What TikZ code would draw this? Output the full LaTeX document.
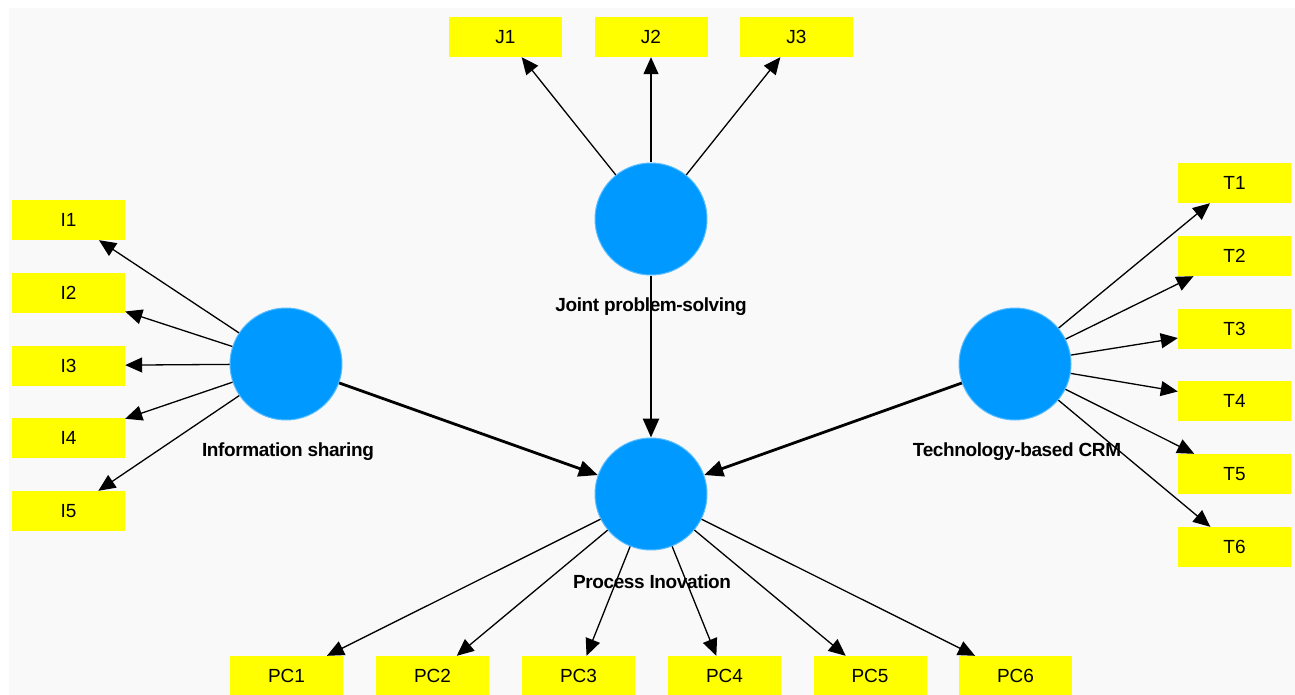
\documentclass[tikz,border=0pt]{standalone}
\usepackage{fontspec}
\setmainfont{Liberation Sans}
\newfontfamily\cnamefont[LetterSpace=-2]{Liberation Sans}
\usepackage{xcolor}
\usepackage{tikz}
\usetikzlibrary{arrows.meta,positioning}
\definecolor{cblue}{RGB}{0,153,255}
\definecolor{cyellow}{RGB}{255,255,0}
\definecolor{canvas}{RGB}{249,249,249}

\begin{document}
\begin{tikzpicture}[
  x=1pt,y=-1pt,
  construct/.style={circle,fill=cblue,draw=cblue!65!white,line width=1pt,minimum size=112pt,inner sep=0pt},
  indicator/.style={rectangle,fill=cyellow,text=black,minimum width=113pt,minimum height=40pt,inner sep=0pt,font=\fontsize{19}{22}\selectfont},
  cname/.style={inner sep=0pt,text=black,font=\cnamefont\bfseries\fontsize{19}{23}\selectfont},
  load/.style={-{Triangle[length=17pt,width=15pt]},draw=black,line width=1.3pt},
  effect/.style={-{Triangle[length=19pt,width=16pt]},draw=black,line width=2.8pt}
]
\useasboundingbox (0,0) rectangle (1295,695);
\fill[white] (0,0) rectangle (1295,695);
\fill[canvas] (9,8) rectangle (1295,695);
\node[construct] (is) at (286,364) {};
\node[construct] (jps) at (651,219) {};
\node[construct] (tcrm) at (1015,364) {};
\node[construct] (pi) at (651,494) {};
\node[cname] (isname) at (288,452) {Information sharing};
\node[cname] (jpsname) at (651,307) {Joint problem-solving};
\node[cname] (tcrmname) at (1017,452) {Technology-based CRM};
\node[cname] (piname) at (652,582) {Process Inovation};
\node[indicator] (i1) at (68.5,220) {I1};
\node[indicator] (i2) at (68.5,293) {I2};
\node[indicator] (i3) at (68.5,365.5) {I3};
\node[indicator] (i4) at (68.5,438) {I4};
\node[indicator] (i5) at (68.5,511) {I5};
\node[indicator] (j1) at (505.5,37) {J1};
\node[indicator] (j2) at (651,37) {J2};
\node[indicator] (j3) at (796.5,37) {J3};
\node[indicator] (t1) at (1234.5,183) {T1};
\node[indicator] (t2) at (1234.5,256) {T2};
\node[indicator] (t3) at (1234.5,329) {T3};
\node[indicator] (t4) at (1234.5,401) {T4};
\node[indicator] (t5) at (1234.5,474) {T5};
\node[indicator] (t6) at (1234.5,547) {T6};
\node[indicator] (pc1) at (286.5,676) {PC1};
\node[indicator] (pc2) at (432.5,676) {PC2};
\node[indicator] (pc3) at (578.5,676) {PC3};
\node[indicator] (pc4) at (724.5,676) {PC4};
\node[indicator] (pc5) at (870,676) {PC5};
\node[indicator] (pc6) at (1015.5,676) {PC6};
\draw[load] (is) -- (i1);
\draw[load] (is) -- (i2);
\draw[load] (is) -- (i3);
\draw[load] (is) -- (i4);
\draw[load] (is) -- (i5);
\draw[load] (jps) -- (j1);
\draw[load] (jps) -- (j2);
\draw[load] (jps) -- (j3);
\draw[load] (tcrm) -- (t1);
\draw[load] (tcrm) -- (t2);
\draw[load] (tcrm) -- (t3);
\draw[load] (tcrm) -- (t4);
\draw[load] (tcrm) -- (t5);
\draw[load] (tcrm) -- (t6);
\draw[load] (pi) -- (pc1);
\draw[load] (pi) -- (pc2);
\draw[load] (pi) -- (pc3);
\draw[load] (pi) -- (pc4);
\draw[load] (pi) -- (pc5);
\draw[load] (pi) -- (pc6);
\draw[effect] (is) -- (pi);
\draw[effect] (jps) -- (pi);
\draw[effect] (tcrm) -- (pi);
\end{tikzpicture}
\end{document}
